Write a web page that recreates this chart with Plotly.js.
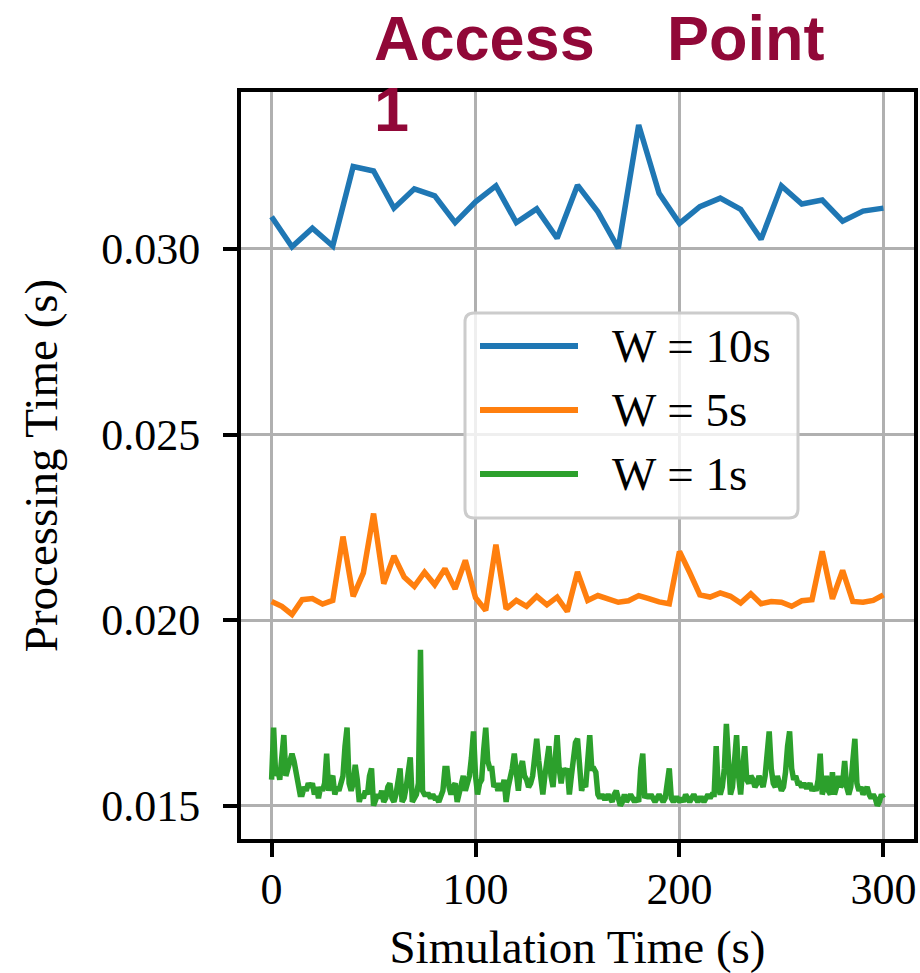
<!DOCTYPE html>
<html>
<head>
<meta charset="utf-8">
<script src="https://cdn.plot.ly/plotly-3.0.1.min.js"></script>
<style>html,body{margin:0;padding:0;background:#fff;}#chart{width:920px;height:973px;}</style>
</head>
<body>
<div id="chart"></div>
<script>
// ---- data ----
const seriesNames = ["W = 10s", "W = 5s", "W = 1s"];
const seriesColors = ["#1f77b4", "#ff7f0e", "#2ca02c"];

const x10 = [0,10,20,30,40,50,60,70,80,90,100,110,120,130,140,150,160,170,180,190,200,210,220,230,240,250,260,270,280,290,300];
const w10 = [0.03087,0.03006,0.03056,0.03008,0.03222,0.0321,0.0311,0.03162,0.03143,0.03071,0.03127,0.0317,0.03071,0.03108,0.03029,0.03172,0.0310,0.03002,0.03334,0.0315,0.03069,0.03114,0.03137,0.03107,0.03026,0.0317,0.03121,0.03132,0.03075,0.03102,0.0311];

const x5 = [0,5,10,15,20,25,30,35,40,45,50,55,60,65,70,75,80,85,90,95,100,105,110,115,120,125,130,135,140,145,150,155,160,165,170,175,180,185,190,195,200,205,210,215,220,225,230,235,240,245,250,255,260,265,270,275,280,285,290,295,300];
const w5 = [0.02050,0.02037,0.02015,0.02055,0.02058,0.02043,0.02053,0.02225,0.02064,0.02127,0.02287,0.02098,0.02173,0.02116,0.02091,0.02129,0.02095,0.02138,0.02084,0.02161,0.0206,0.02026,0.02203,0.0203,0.02053,0.02037,0.02064,0.02041,0.02062,0.02023,0.0213,
0.02053,0.02066,0.02055,0.02048,0.02052,0.02066,0.02058,0.02049,0.02044,0.02185,0.02128,0.02068,0.02062,0.02073,0.02064,0.02046,0.02071,0.02044,0.0205,0.02048,0.02037,0.02052,0.02055,0.02185,0.02057,0.02134,0.0205,0.02048,0.02053,0.02068];

const x1 = [];
for (let i = 0; i <= 300; i++) x1.push(i);
const w1 = [
0.0157,0.0171,0.0158,0.0160,0.0157,0.0165,0.0169,0.0158,0.0160,0.0163,
0.0164,0.0162,0.0159,0.0154,0.0153,0.0153,0.0155,0.0154,0.0156,0.0155,
0.0156,0.0153,0.0155,0.0152,0.0155,0.0154,0.0156,0.0164,0.0154,0.0157,
0.0158,0.0153,0.0155,0.0154,0.0156,0.0158,0.0166,0.0171,0.0156,0.0154,
0.0156,0.0161,0.0157,0.0151,0.0153,0.0152,0.0154,0.0153,0.0158,0.0160,
0.0150,0.0152,0.0153,0.0152,0.0154,0.0151,0.0152,0.0155,0.0156,0.0152,
0.0151,0.0153,0.0156,0.0160,0.0151,0.0152,0.0155,0.0160,0.0163,0.0151,
0.0152,0.0153,0.0156,0.0192,0.0154,0.0153,0.0153,0.0153,0.0152,0.0153,
0.0152,0.0152,0.0151,0.0153,0.0154,0.0160,0.0160,0.0155,0.0153,0.0155,
0.0156,0.0151,0.0154,0.0157,0.0158,0.0154,0.0156,0.0158,0.0163,0.0170,
0.0158,0.0153,0.0156,0.0157,0.0165,0.0171,0.0162,0.0160,0.0160,0.0155,
0.0156,0.0154,0.0156,0.0154,0.0157,0.0151,0.0155,0.0157,0.0160,0.0164,
0.0158,0.0154,0.0160,0.0162,0.0158,0.0157,0.0155,0.0156,0.0158,0.0163,
0.0168,0.0162,0.0156,0.0153,0.0158,0.0163,0.0166,0.0158,0.0155,0.0162,
0.0169,0.0160,0.0156,0.0160,0.0159,0.0160,0.0153,0.0158,0.0163,0.0167,
0.0168,0.0158,0.0154,0.0156,0.0155,0.0162,0.0169,0.0160,0.0160,0.0159,
0.0153,0.0152,0.0153,0.0152,0.0152,0.0153,0.0152,0.0151,0.0153,0.0154,
0.0152,0.0150,0.0151,0.0153,0.0151,0.0152,0.0153,0.0152,0.0151,0.0152,
0.0151,0.0160,0.0164,0.0152,0.0153,0.0152,0.0153,0.0152,0.0151,0.0152,
0.0153,0.0152,0.0151,0.0152,0.0157,0.0160,0.0152,0.0151,0.0152,0.0152,
0.0151,0.0152,0.0151,0.0153,0.0152,0.0151,0.0152,0.0153,0.0152,0.0151,
0.0152,0.0152,0.0151,0.0152,0.0153,0.0152,0.0153,0.0153,0.0166,0.0155,
0.0153,0.0155,0.0160,0.0172,0.0160,0.0153,0.0155,0.0162,0.0169,0.0158,
0.0153,0.0160,0.0166,0.0157,0.0156,0.0158,0.0157,0.0155,0.0156,0.0158,
0.0156,0.0155,0.0158,0.0164,0.0170,0.0160,0.0156,0.0155,0.0158,0.0156,
0.0154,0.0155,0.0159,0.0166,0.0170,0.0160,0.0157,0.0158,0.0156,0.0156,
0.0155,0.0156,0.0155,0.0155,0.0156,0.0154,0.0155,0.0154,0.0157,0.0164,
0.0153,0.0155,0.0158,0.0154,0.0153,0.0159,0.0153,0.0155,0.0158,0.0155,
0.0156,0.0162,0.0155,0.0153,0.0155,0.0162,0.0168,0.0156,0.0154,0.0155,
0.0153,0.0154,0.0155,0.0153,0.0152,0.0153,0.0152,0.0150,0.0151,0.0153,
0.0152];

const xTicks = [0, 100, 200, 300];
const xTickText = ["0", "100", "200", "300"];
const yTicks = [0.015, 0.020, 0.025, 0.030];
const yTickText = ["0.015", "0.020", "0.025", "0.030"];

const titleWords = ["Access", "Point", "1"];
const xTitle = "Simulation Time (s)";
const yTitle = "Processing Time (s)";

// ---- figure ----
const serif = "Liberation Serif, DejaVu Serif, serif";
const xs = [x10, x5, x1];
const ys = [w10, w5, w1];
const traces = ys.map((v, i) => ({
  type: "scatter", mode: "lines", x: xs[i], y: v, name: seriesNames[i],
  line: {color: seriesColors[i], width: 5.5}, showlegend: false, hoverinfo: "skip"
}));

// plot area geometry in px (for legend/title placement)
const L = 241, R = 914, T = 92, B = 839;
const W = R - L, H = B - T;
const px = (p) => (p - L) / W;
const py = (p) => (B - p) / H;

const shapes = [];
const annotations = [];
// legend box with rounded corners
(function () {
  const r = 9;
  const a = px(465), b = px(798), top = py(313), bot = py(518);
  const rx = r / W, ry = r / H;
  const path = `M${a + rx},${top} L${b - rx},${top} Q${b},${top} ${b},${top - ry} ` +
    `L${b},${bot + ry} Q${b},${bot} ${b - rx},${bot} L${a + rx},${bot} Q${a},${bot} ${a},${bot + ry} ` +
    `L${a},${top - ry} Q${a},${top} ${a + rx},${top} Z`;
  shapes.push({type: "path", xref: "paper", yref: "paper", path: path,
    fillcolor: "rgba(255,255,255,0.8)", line: {color: "#cccccc", width: 3}, layer: "above"});
})();
const legRows = [346, 410, 474];
seriesNames.forEach((n, i) => {
  shapes.push({type: "line", xref: "paper", yref: "paper",
    x0: px(480), x1: px(578), y0: py(legRows[i]), y1: py(legRows[i]),
    line: {color: seriesColors[i], width: 6}, layer: "above"});
  annotations.push({xref: "paper", yref: "paper", x: px(610), y: py(legRows[i]),
    xanchor: "left", yanchor: "middle", showarrow: false, text: n,
    font: {family: serif, size: 47, color: "#000"}});
});
// title words
const titleColor = "#910838";
const titleFont = {family: "Liberation Sans, Arial, sans-serif", size: 63, color: titleColor, weight: "bold"};
annotations.push({xref: "paper", yref: "paper", x: px(372), y: py(38), xanchor: "left", yanchor: "middle",
  showarrow: false, text: "<b>" + titleWords[0] + "</b>", font: titleFont});
annotations.push({xref: "paper", yref: "paper", x: px(665), y: py(38), xanchor: "left", yanchor: "middle",
  showarrow: false, text: "<b>" + titleWords[1] + "</b>", font: titleFont});
annotations.push({xref: "paper", yref: "paper", x: px(372), y: py(109), xanchor: "left", yanchor: "middle",
  showarrow: false, text: "<b>" + titleWords[2] + "</b>", font: titleFont});

const axisCommon = {
  showline: true, linecolor: "#000", linewidth: 4, mirror: true,
  ticks: "outside", ticklen: 14, tickwidth: 4, tickcolor: "#000",
  showgrid: true, gridcolor: "#b0b0b0", gridwidth: 3, zeroline: false,
  tickfont: {family: serif, size: 44, color: "#000"}, automargin: false
};

const layout = {
  width: 920, height: 973,
  margin: {l: L, r: 920 - R, t: T, b: 973 - B},
  paper_bgcolor: "#fff", plot_bgcolor: "#fff",
  showlegend: false,
  xaxis: Object.assign({}, axisCommon, {
    range: [-15, 315], tickvals: xTicks, ticktext: xTickText, ticklabelstandoff: -6,
    title: {text: xTitle, font: {family: serif, size: 47, color: "#000"}, standoff: 26}
  }),
  yaxis: Object.assign({}, axisCommon, {
    range: [0.0141, 0.03423], tickvals: yTicks, ticktext: yTickText, ticklabelstandoff: 14,
    title: {text: yTitle, font: {family: serif, size: 47, color: "#000"}, standoff: 30}
  }),
  shapes: shapes,
  annotations: annotations
};

Plotly.newPlot("chart", traces, layout, {staticPlot: true, displayModeBar: false});
</script>
</body>
</html>
